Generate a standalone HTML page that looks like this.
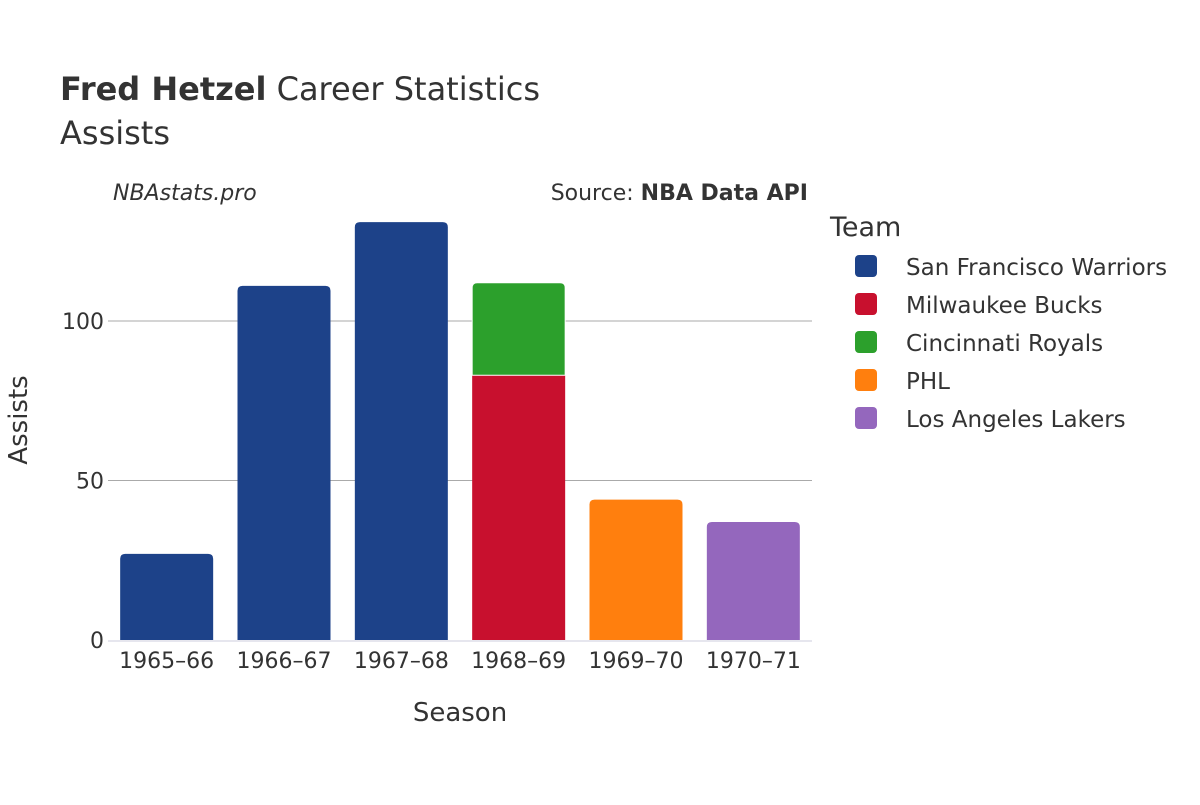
<!DOCTYPE html>
<html><head><meta charset="utf-8"><style>
body{margin:0;background:#fff;}
svg text{font-family:"DejaVu Sans","Liberation Sans",sans-serif;fill:#333;}
</style></head><body>
<svg id="chart" width="1200" height="800">
<text x="60" y="100" font-size="32"><tspan font-weight="bold">Fred Hetzel</tspan> Career Statistics</text>
<text x="60" y="144" font-size="32">Assists</text>
<text x="113" y="200" font-size="22" font-style="italic">NBAstats.pro</text>
<text x="808" y="200" font-size="22" text-anchor="end">Source: <tspan font-weight="bold">NBA Data API</tspan></text>
<g id="grid"></g>
<g id="bars"></g>
<g id="xticks"></g>
<text x="460" y="721" font-size="26" text-anchor="middle">Season</text>
<text transform="translate(27,420) rotate(-90)" font-size="26" text-anchor="middle">Assists</text>
<text x="830" y="236" font-size="27">Team</text>
<g id="legend"></g>
</svg>
<script>
const seasons=["1965–66","1966–67","1967–68","1968–69","1969–70","1970–71"];
const teams=["San Francisco Warriors","Milwaukee Bucks","Cincinnati Royals","PHL","Los Angeles Lakers"];
const colors=["#1d4289","#c8102e","#2ca02c","#ff7f0e","#9467bd"];
const sfw=[27,111,131,0,0,0];
const mil=[0,0,0,83,0,0];
const cin=[0,0,0,29,0,0];
const phl=[0,0,0,0,44,0];
const lal=[0,0,0,0,0,37];
const yTicks=[0,50,100];
const series=[sfw,mil,cin,phl,lal];
const NS="http://www.w3.org/2000/svg";
const x0=108,x1=812,y0=640,yMax=131.5/0.99;
const ppu=(640-321)/100;
const y=v=>y0-v*ppu;
const band=(x1-x0)/seasons.length;
const xc=i=>x0+band*(i+0.5);
function mk(tag,attrs,parent){const e=document.createElementNS(NS,tag);for(const k in attrs)e.setAttribute(k,attrs[k]);document.getElementById(parent).appendChild(e);return e;}
yTicks.forEach(t=>{
  if(t>0){const l=mk('line',{x1:x0,x2:x1,y1:y(t),y2:y(t),stroke:'#aaa','stroke-width':1},'grid');
  
  }
  const tx=mk('text',{x:x0-4,y:y(t)+8,'font-size':22,'text-anchor':'end'},'grid');tx.textContent=t;
  
  
});
const base=mk('line',{x1:x0,x2:x1,y1:y0+1,y2:y0+1,stroke:'#e6e6ee','stroke-width':2},'grid');


const bw=93;
seasons.forEach((s,i)=>{
  let acc=0;
  series.forEach((arr,k)=>{
    const v=arr[i];if(!v)return;
    const top=y(acc+v),bot=y(acc);
    const last=series.slice(k+1).every(a=>!a[i]);
    const x=xc(i)-bw/2,r=last?5:0,h=bot-top;
    const d=`M${x},${bot}V${top+r}Q${x},${top} ${x+r},${top}H${x+bw-r}Q${x+bw},${top} ${x+bw},${top+r}V${bot}Z`;
    const p=mk('path',{d:d,fill:colors[k],stroke:'#fff','stroke-width':acc?1:0},'bars');
    
    
    acc+=v;
  });
  const t=mk('text',{x:xc(i),y:668,'font-size':22,'text-anchor':'middle'},'xticks');t.textContent=s;
  
  
});
teams.forEach((tm,k)=>{
  const g=mk('g',{},'legend');
  
  
  const cy=266+k*38;
  const r=document.createElementNS(NS,'rect');
  r.setAttribute('x',855);r.setAttribute('y',cy-11);r.setAttribute('width',22);r.setAttribute('height',22);r.setAttribute('rx',4);r.setAttribute('fill',colors[k]);
  g.appendChild(r);
  const t=document.createElementNS(NS,'text');
  t.setAttribute('x',906);t.setAttribute('y',cy+9);t.setAttribute('font-size',23);t.textContent=tm;
  g.appendChild(t);
});
</script>
</body></html>
